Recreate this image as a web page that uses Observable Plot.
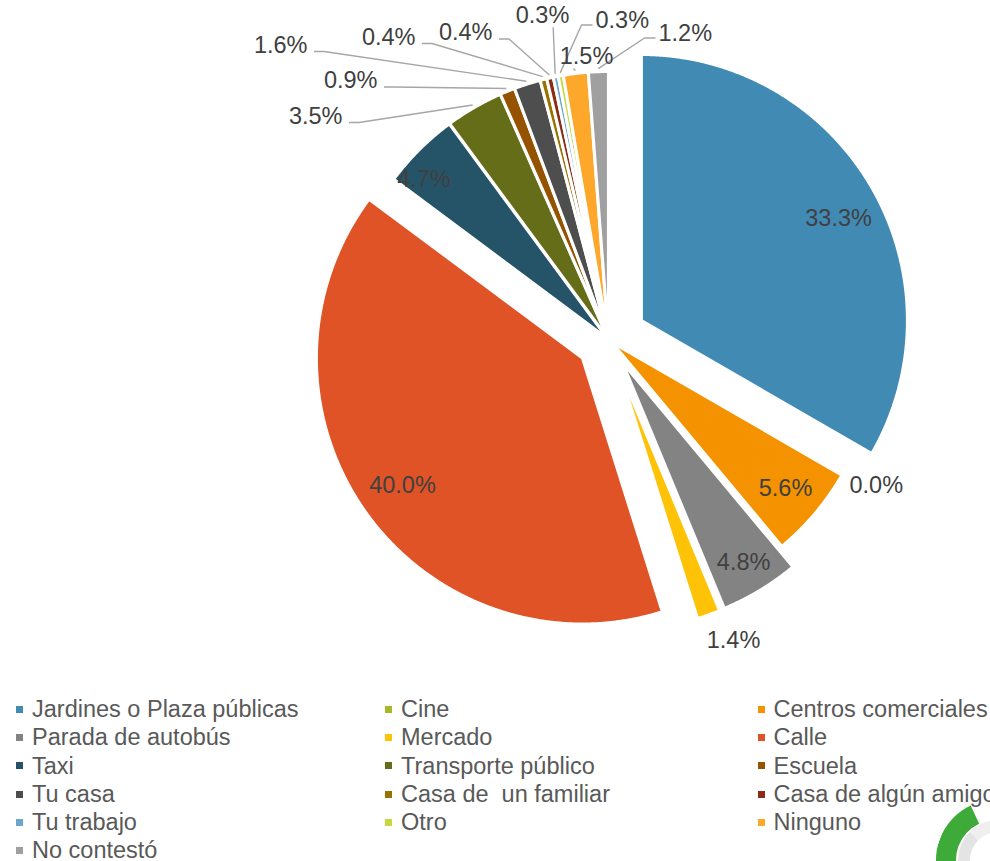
<!DOCTYPE html>
<html><head><meta charset="utf-8">
<script src="https://cdn.jsdelivr.net/npm/d3@7"></script>
<script src="https://cdn.jsdelivr.net/npm/@observablehq/plot@0.6"></script>
<style>
html,body{margin:0;padding:0;background:#fff;width:990px;height:861px;overflow:hidden;}
#wrap{position:relative;width:990px;height:861px;font-family:"Liberation Sans",Arial,sans-serif;overflow:hidden;}
#legend{position:absolute;left:16px;top:695px;display:grid;grid-template-columns:369px 372.5px 400px;grid-auto-rows:28.3px;font-size:23.5px;color:#595959;white-space:pre;}
.item{display:flex;align-items:center;line-height:28.3px;}
.sw{width:7px;height:7px;margin-right:9px;flex:none;}
#logo{position:absolute;left:936px;top:800px;width:120px;height:120px;border-radius:50%;box-sizing:border-box;border:20px solid transparent;border-left-color:#3DAA3A;border-bottom-color:#3DAA3A;transform:rotate(20deg);}
#logo2{position:absolute;left:958px;top:820px;width:80px;height:80px;border-radius:50%;box-sizing:border-box;border:12px solid transparent;border-left-color:#e4e4e4;border-top-color:#efefef;}
</style></head><body><div id="wrap"></div>
<script>
const categories = ["Jardines o Plaza públicas","Cine","Centros comerciales","Parada de autobús","Mercado","Calle","Taxi","Transporte público","Escuela","Tu casa","Casa de  un familiar","Casa de algún amigo","Tu trabajo","Otro","Ninguno","No contestó"];
const values = [33.3, 0.0, 5.6, 4.8, 1.4, 40.0, 4.7, 3.5, 0.9, 1.6, 0.4, 0.4, 0.3, 0.3, 1.5, 1.2];
const colors = ["#418AB3","#A6B727","#F59200","#838383","#FEC306","#DF5327","#255468","#656D18","#955300","#4E4E4E","#977300","#8B2C16","#6BA7CC","#C8D63F","#FDA72B","#A0A0A0"];
// per-slice explosion (px), as in the original
const explode = [38, 0, 4, 27, 27, 32, 2, 2, 2, 2, 2, 2, 2, 2, 2, 2];

// layout
const W = 990, H = 690, cx = 608, cy = 339, R = 266;
const fontFamily = "Liberation Sans, Arial, sans-serif";
const fmt = v => v.toFixed(1) + "%";
const polar = (a, r, ox = cx, oy = cy) => [ox + r * Math.sin(a), oy - r * Math.cos(a)];
const deg = Math.PI / 180;

const arcs = d3.pie().sort(null).value(d => d)(values);
const slices = arcs.map((p, i) => {
  const mid = (p.startAngle + p.endAngle) / 2;
  const [ox, oy] = polar(mid, explode[i]);
  return {i, name: categories[i], value: values[i], start: p.startAngle, end: p.endAngle, mid, ox, oy};
});

const slicePts = slices.filter(s => s.value > 0).flatMap(s => {
  const pts = [{name: s.name, x: s.ox, y: s.oy}];
  const n = Math.max(2, Math.ceil((s.end - s.start) / 0.005));
  for (let k = 0; k <= n; k++) {
    const a = s.start + (s.end - s.start) * k / n;
    const [x, y] = polar(a, R, s.ox, s.oy);
    pts.push({name: s.name, x, y});
  }
  return pts;
});

// inside labels: slice index, radial position (fraction of radius), angular nudge (deg)
const insideLabelsAt = [[0, 0.835, 2.6], [2, 0.855, 0], [3, 0.88, 0], [5, 0.83, 0], [6, 0.91, -4.3]];
const insideLabels = insideLabelsAt.map(([i, f, da]) => {
  const s = slices[i];
  const [x, y] = polar(s.mid + da * deg, f * R, s.ox, s.oy);
  return {x, y, text: fmt(s.value)};
});

// Excel-style placement of the outside data labels
const outsideLabels = [
  {i: 1, x: 849, y: 485, anchor: "start", leader: false},
  {i: 4, x: 733, y: 640, anchor: "middle", leader: false},
  {i: 7, x: 342, y: 115.5, anchor: "end", leader: true},
  {i: 8, x: 377, y: 80, anchor: "end", leader: true},
  {i: 9, x: 307, y: 44.5, anchor: "end", leader: true},
  {i: 10, x: 415, y: 36.5, anchor: "end", leader: true},
  {i: 11, x: 492, y: 32, anchor: "end", leader: true},
  {i: 12, x: 542, y: 14.7, anchor: "middle", leader: true},
  {i: 13, x: 595, y: 19.5, anchor: "start", leader: true},
  {i: 14, x: 586, y: 56, anchor: "middle", leader: true},
  {i: 15, x: 658, y: 32.5, anchor: "start", leader: true}
].map(d => ({...d, text: fmt(values[d.i])}));

const leaderPts = outsideLabels.filter(d => d.leader).flatMap(d => {
  const s = slices[d.i];
  const [ex, ey] = polar(s.mid, R + explode[d.i] + 3);
  let pts;
  if (d.anchor === "end") pts = [[ex, ey], [d.x + 6.5 + 10, d.y + 6.5], [d.x + 6.5, d.y + 6.5]];
  else if (d.anchor === "start") pts = [[ex, ey], [d.x - 3 - 11, d.y + 5], [d.x - 3, d.y + 5]];
  else pts = [[ex, ey], [ex - 2, d.y + 12]];
  return pts.map(([x, y]) => ({id: d.i, x, y}));
});

const chart = Plot.plot({
  width: W, height: H, margin: 0,
  x: {domain: [0, W], range: [0, W], axis: null},
  y: {domain: [0, H], range: [0, H], axis: null},
  color: {domain: categories, range: colors},
  style: {fontFamily, background: "#fff", overflow: "visible"},
  marks: [
    Plot.line(slicePts, {x: "x", y: "y", z: "name", fill: "name", stroke: "white", strokeWidth: 3, curve: "linear-closed"}),
    Plot.line(leaderPts, {x: "x", y: "y", z: "id", stroke: "#A6A6A6", strokeWidth: 1.4, strokeLinecap: "butt"}),
    Plot.text(insideLabels, {x: "x", y: "y", text: "text", fill: "#404040", fontSize: 23.5, fontFamily, textAnchor: "middle"}),
    ...["start", "middle", "end"].map(a =>
      Plot.text(outsideLabels.filter(d => d.anchor === a), {x: "x", y: "y", text: "text", fill: "#404040", fontSize: 23.5, fontFamily, textAnchor: a}))
  ]
});

const wrap = document.getElementById("wrap");
const logo = document.createElement("div");
logo.id = "logo";
wrap.appendChild(logo);
const logo2 = document.createElement("div");
logo2.id = "logo2";
wrap.appendChild(logo2);
wrap.appendChild(chart);

const legend = document.createElement("div");
legend.id = "legend";
categories.forEach((c, i) => {
  const item = document.createElement("div");
  item.className = "item";
  const sw = document.createElement("span");
  sw.className = "sw";
  sw.style.background = colors[i];
  const t = document.createElement("span");
  t.textContent = c;
  item.appendChild(sw); item.appendChild(t);
  legend.appendChild(item);
});
wrap.appendChild(legend);
</script>
</body></html>
